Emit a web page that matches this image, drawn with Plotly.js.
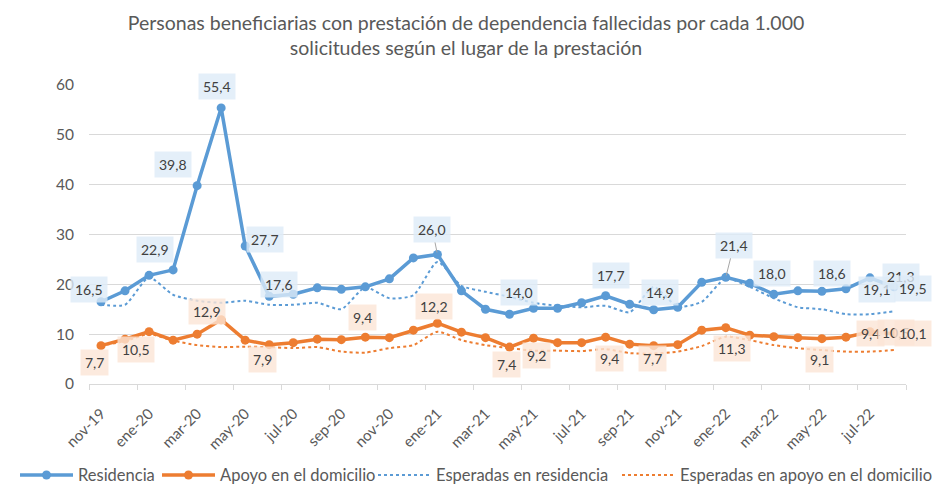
<!DOCTYPE html>
<html>
<head>
<meta charset="utf-8">
<script src="https://cdn.plot.ly/plotly-3.0.1.min.js"></script>
<style>html,body{margin:0;padding:0;background:#fff;}#chart{width:932px;height:486px;}</style>
</head>
<body>
<div id="chart"></div>
<script>
// ---- Data ----
const months = ["nov-19","dic-19","ene-20","feb-20","mar-20","abr-20","may-20","jun-20","jul-20","ago-20","sep-20","oct-20",
  "nov-20","dic-20","ene-21","feb-21","mar-21","abr-21","may-21","jun-21","jul-21","ago-21","sep-21","oct-21",
  "nov-21","dic-21","ene-22","feb-22","mar-22","abr-22","may-22","jun-22","jul-22","ago-22"];
const tickLabels = ["nov-19","ene-20","mar-20","may-20","jul-20","sep-20","nov-20","ene-21","mar-21","may-21","jul-21",
  "sep-21","nov-21","ene-22","mar-22","may-22","jul-22"];
const residencia = [16.5,18.7,21.8,22.9,39.8,55.4,27.7,17.6,18.0,19.3,19.0,19.5,21.1,25.3,26.0,18.7,15.0,14.0,15.2,15.2,
  16.3,17.7,16.0,14.9,15.4,20.4,21.4,20.2,18.0,18.7,18.6,19.1,21.3,19.5];
const domicilio = [7.7,9.0,10.5,8.8,10.0,12.9,8.8,7.9,8.3,9.0,8.9,9.4,9.3,10.8,12.2,10.4,9.3,7.4,9.2,8.3,
  8.3,9.4,8.0,7.7,7.9,10.8,11.3,9.8,9.5,9.3,9.1,9.4,10.5,10.1];
const esperadasResidencia = [15.9,15.9,21.4,17.9,16.7,16.3,16.7,15.9,15.9,16.3,15.0,19.4,17.2,17.8,24.5,19.7,18.5,17.5,
  16.3,15.7,15.4,15.7,14.4,19.5,15.5,16.5,21.2,19.5,17.2,15.4,15.0,14.0,14.0,14.6];
const esperadasDomicilio = [7.7,8.6,10.0,8.7,7.8,7.4,7.5,7.4,7.2,7.4,6.5,6.3,7.2,7.8,10.5,8.8,7.8,7.2,6.7,6.7,
  6.6,7.0,6.2,6.1,6.5,7.6,9.5,8.8,7.8,7.2,6.8,6.5,6.5,6.8];
const yTicks = [0,10,20,30,40,50,60];

// ---- Label placement (style: month label, pixel offset dx, dy, leader line) ----
const resLabelStyle = [
  ["nov-19",-12,-12],["feb-20",-18,-20],["mar-20",-24,-21],["abr-20",-4,-21],["may-20",20,-6],["jun-20",10,-12],
  ["ene-21",-5,-25,true],["abr-21",9,-22],["ago-21",5,-20],["oct-21",6,-17],["ene-22",8,-32,true],["mar-22",-2,-21],
  ["may-22",10,-18],["jun-22",31,1],["jul-22",31,-1],["ago-22",19,2]
];
const domLabelStyle = [
  ["nov-19",-7,17],["ene-20",-13,18],["abr-20",-14,-8],["jun-20",-7,15],["oct-20",-3,-20],["ene-21",-3,-17],
  ["abr-21",-3,17],["may-21",3,17],["ago-21",4,21],["oct-21",-1,13],["ene-22",6,21],["may-22",-2,21],
  ["jun-22",25,-4],["jul-22",26,1],["ago-22",19,0]
];

const BLUE = "#5b9bd5", ORANGE = "#ed7d31";
const FONT = "Lato, 'Open Sans', sans-serif";
const fmt = v => v.toFixed(1).replace(".", ",");

function makeAnn(style, series, bg) {
  return style.map(([m, dx, dy, leader]) => {
    const i = months.indexOf(m);
    const a = {
      x: m, y: series[i], xref: "x", yref: "y", text: fmt(series[i]),
      font: {family: FONT, size: 14, color: "#404040"},
      bgcolor: bg, borderpad: 4
    };
    if (leader) {
      Object.assign(a, {showarrow: true, ax: dx, ay: dy, arrowhead: 0, arrowwidth: 1, arrowcolor: "#a6a6a6", standoff: 2});
    } else {
      Object.assign(a, {showarrow: false, xshift: dx, yshift: -dy});
    }
    return a;
  });
}

const traces = [
  {x: months, y: residencia, name: "Residencia", type: "scatter", mode: "lines+markers", legend: "legend",
   line: {color: BLUE, width: 3.5}, marker: {color: BLUE, size: 9}, hoverinfo: "skip"},
  {x: months, y: domicilio, name: "Apoyo en el domicilio", type: "scatter", mode: "lines+markers", legend: "legend2",
   line: {color: ORANGE, width: 3.5}, marker: {color: ORANGE, size: 9}, hoverinfo: "skip"},
  {x: months, y: esperadasResidencia, name: "Esperadas en residencia", type: "scatter", mode: "lines", legend: "legend3",
   line: {color: BLUE, width: 2, dash: "dot", shape: "spline", smoothing: 0.6}, hoverinfo: "skip"},
  {x: months, y: esperadasDomicilio, name: "Esperadas en apoyo en el domicilio", type: "scatter", mode: "lines", legend: "legend4",
   line: {color: ORANGE, width: 2, dash: "dot", shape: "spline", smoothing: 0.6}, hoverinfo: "skip"},
  {x: [], y: [], xaxis: "x2", yaxis: "y", showlegend: false, hoverinfo: "skip", type: "scatter"}
];

function legendAt(px) {
  return {
    orientation: "h", xref: "container", yref: "container", x: px / 932, xanchor: "left", y: 0.022, yanchor: "middle",
    font: {family: FONT, size: 16.5, color: "#595959"}, itemwidth: 53, bgcolor: "rgba(0,0,0,0)"
  };
}

const layout = {
  width: 932, height: 486,
  margin: {l: 89, r: 26, t: 85, b: 102},
  paper_bgcolor: "#ffffff", plot_bgcolor: "#ffffff",
  font: {family: FONT, color: "#595959"},
  title: {
    text: "Personas beneficiarias con prestación de dependencia fallecidas por cada 1.000<br>solicitudes según el lugar de la prestación",
    font: {family: FONT, size: 19.5, color: "#595959"},
    x: 0.5, xref: "container", xanchor: "center", y: 0.939, yref: "container", yanchor: "middle"
  },
  xaxis: {
    type: "category", categoryorder: "array", categoryarray: months,
    range: [-0.5, months.length - 0.5],
    tickmode: "array", tickvals: tickLabels, ticktext: tickLabels,
    tickangle: -45, ticks: "", ticklabelstandoff: 14,
    tickfont: {family: FONT, size: 15, color: "#595959"},
    showgrid: false, showline: true, linecolor: "#d9d9d9", linewidth: 1, zeroline: false
  },
  xaxis2: {
    overlaying: "x", anchor: "y", side: "bottom", type: "linear",
    range: [-0.5, months.length - 0.5],
    tickmode: "array",
    tickvals: Array.from({length: months.length / 2 + 1}, (_, k) => -0.5 + 2 * k),
    ticks: "outside", ticklen: 5, tickcolor: "#d9d9d9", tickwidth: 1,
    showticklabels: false, showgrid: false, showline: false, zeroline: false
  },
  yaxis: {
    range: [0, 60], tickmode: "array", tickvals: yTicks, ticktext: yTicks.map(String),
    showgrid: true, gridcolor: "#d9d9d9", gridwidth: 1, zeroline: false, showline: false,
    ticks: "", ticklabelstandoff: 14,
    tickfont: {family: FONT, size: 15.5, color: "#595959"}
  },
  showlegend: true,
  legend: legendAt(15),
  legend2: legendAt(157),
  legend3: legendAt(373),
  legend4: legendAt(617),
  annotations: [
    ...makeAnn(resLabelStyle, residencia, "rgba(221,235,247,0.8)"),
    ...makeAnn(domLabelStyle, domicilio, "rgba(251,229,214,0.8)")
  ]
};

Plotly.newPlot("chart", traces, layout, {displayModeBar: false, staticPlot: true});
</script>
</body>
</html>
